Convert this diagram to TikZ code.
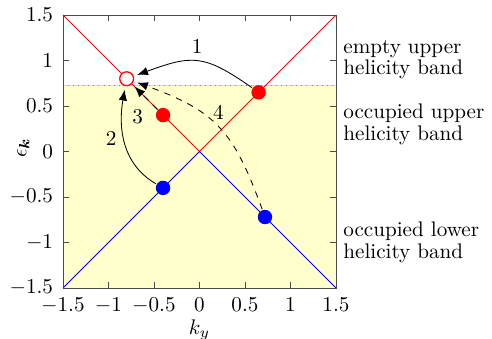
\documentclass[tikz,border=0pt]{standalone}
\usepackage{bm}
\usetikzlibrary{arrows.meta, positioning}
\definecolor{bandUp}{HTML}{FF0000}
\definecolor{bandLo}{HTML}{0000FF}
\definecolor{seaFill}{HTML}{FFFFCC}
\definecolor{seaEdge}{HTML}{F5E84A}
\definecolor{seaDots}{HTML}{8A8A7A}
\definecolor{frameInk}{HTML}{4A4A4A}

\begin{document}
\begin{tikzpicture}[x=1.513cm, y=1.513cm,
        occ/.style={circle, fill=#1, inner sep=0pt, minimum size=2.4mm, outer sep=0.5pt},
        holeDot/.style={circle, draw=bandUp, semithick, fill=white, inner sep=0pt, minimum size=2.3mm, outer sep=2pt},
        hop/.style={-{Latex[length=1.8mm, width=1.4mm]}, black},
        tunnel/.style={hop, dashed},
        ticklab/.style={inner sep=4.5pt},
        bandtxt/.style={anchor=west, align=left, inner sep=3.33pt, font=\fontsize{10}{10.3}\selectfont}]
        \useasboundingbox (-2.192,-2.051) rectangle (3.215,1.665);
        % occupied region below the Fermi level
        \fill[seaFill] (-1.5,-1.5) rectangle (1.5,0.73);
        \draw[seaEdge] (-1.5,0.73) -- (1.5,0.73);
        \draw[seaDots, dotted] (-1.5,0.73) -- (1.5,0.73);
        % helicity bands
        \draw[bandUp] (-1.5,1.5) -- (0,0) -- (1.5,1.5);
        \draw[bandLo] (-1.5,-1.5) -- (0,0) -- (1.5,-1.5);
        % frame and ticks
        \foreach \t [count=\i] in {-1.5,-1,...,1.5} {
          \draw[frameInk] (\t,-1.5) -- ++(0,0.1cm) (\t,1.5) -- ++(0,-0.1cm)
                (-1.5,\t) -- ++(0.1cm,0) (1.5,\t) -- ++(-0.1cm,0);
          \node[ticklab, below] (xt\i) at (\t,-1.5) {$\pgfmathprintnumber{\t}$};
          \node[ticklab, left] (yt\i) at (-1.5,\t) {$\pgfmathprintnumber{\t}$};
        }
        \draw[frameInk] (-1.5,-1.5) rectangle (1.5,1.5);
        \node (klab) at (0,-1.96) {$k_y$};
        \node[rotate=90] (elab) at (-1.936,0.04) {$\epsilon_{\bm{k}}$};
        % band labels
        \node[bandtxt] (emptyU) at (1.5,1.01) {empty upper\\helicity band};
        \node[bandtxt] (occU) at (1.5,0.30) {occupied upper\\helicity band};
        \node[bandtxt] (occL) at (1.5,-1.0) {occupied lower\\helicity band};
        % states
        \node[holeDot] (holeU) at (-0.8,0.8) {};
        \node[occ=bandUp] (upL) at (-0.4,0.4) {};
        \node[occ=bandUp] (upR) at (0.65,0.65) {};
        \node[occ=bandLo] (loL) at (-0.4,-0.4) {};
        \node[occ=bandLo] (loR) at (0.72,-0.72) {};
        % scattering paths
        \draw[hop] (upR) to[out=145, in=20, looseness=1.3] node[above] (n1) {1} (holeU);
        \draw[hop] (loL) to[out=150, in=-100, looseness=1.0] node[left, pos=0.55] (n2) {2} (holeU);
        \draw[tunnel] (upL) -- node[below left, pos=0.3] (n3) {3} (holeU);
        \draw[tunnel] (loR) to[out=110, in=-20, looseness=1.2] node[above] (n4) {4} (holeU);
      \end{tikzpicture}
\end{document}
